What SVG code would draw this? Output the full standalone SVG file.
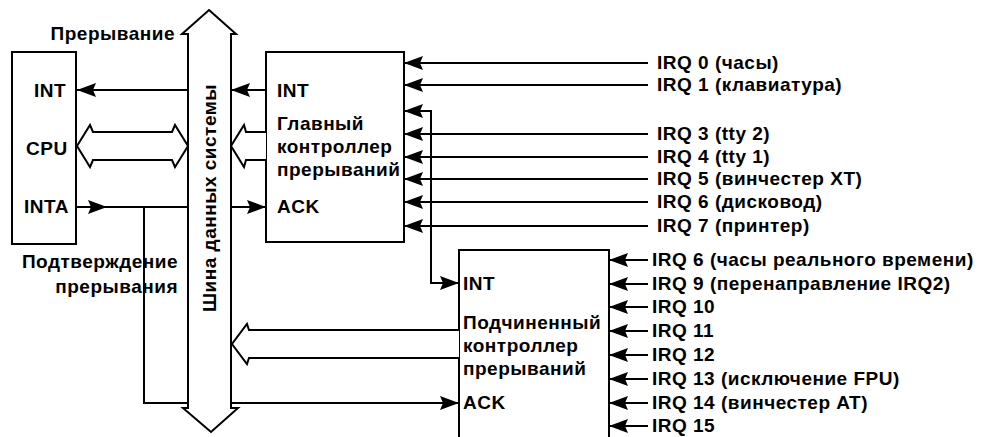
<svg xmlns="http://www.w3.org/2000/svg" width="981" height="437" viewBox="0 0 981 437">
<style>
text{font-family:"Liberation Sans",Arial,sans-serif;font-weight:bold;font-size:19px;letter-spacing:0.5px;fill:#000}
.box{fill:#fff;stroke:#000;stroke-width:2}
.ln{fill:none;stroke:#000;stroke-width:2}
.arr{fill:none;stroke:#000;stroke-width:2;marker-end:url(#ah)}
.hol{fill:#fff;stroke:#000;stroke-width:2;stroke-linejoin:miter}
</style>
<defs>
<marker id="ah" viewBox="0 0 19 14" refX="19" refY="7" markerWidth="19" markerHeight="14" markerUnits="userSpaceOnUse" orient="auto-start-reverse">
<path d="M0,0 L19,7 L0,14 L3,7 Z" fill="#000"/>
</marker>
</defs>

<g id="cpu">
<rect class="box" x="12" y="52" width="64" height="192"/>
<text x="34" y="97">INT</text>
<text x="26" y="155">CPU</text>
<text x="24" y="213">INTA</text>
</g>

<g id="bus">
<polygon class="hol" points="209,10 236,34 231,34 231,408 238,408 211,432 183,408 188,408 188,34 182,34"/>
<text transform="translate(216,198) rotate(-90)" text-anchor="middle">Шина данных системы</text>
</g>

<g id="labels">
<text x="175" y="40" text-anchor="end">Прерывание</text>
<text x="178" y="268" text-anchor="end">Подтверждение</text>
<text x="178" y="293" text-anchor="end">прерывания</text>
</g>

<g id="master">
<rect class="box" x="266" y="52" width="138" height="190"/>
<text x="277" y="97">INT</text>
<text x="277" y="130">Главный</text>
<text x="277" y="153">контроллер</text>
<text x="277" y="176">прерываний</text>
<text x="277" y="213">ACK</text>
</g>

<g id="slave">
<path class="box" d="M459,437 V250 H609 V437"/>
<text x="463" y="290">INT</text>
<text x="463" y="329">Подчиненный</text>
<text x="463" y="352">контроллер</text>
<text x="463" y="375">прерываний</text>
<text x="463" y="409">ACK</text>
</g>

<g id="irq-master-labels">
<text x="657" y="69">IRQ 0 (часы)</text>
<text x="657" y="91">IRQ 1 (клавиатура)</text>
<text x="657" y="140">IRQ 3 (tty 2)</text>
<text x="657" y="163">IRQ 4 (tty 1)</text>
<text x="657" y="185">IRQ 5 (винчестер XT)</text>
<text x="657" y="208">IRQ 6 (дисковод)</text>
<text x="657" y="232">IRQ 7 (принтер)</text>
</g>

<g id="irq-slave-labels">
<text x="652" y="266">IRQ 6 (часы реального времени)</text>
<text x="652" y="290">IRQ 9 (перенаправление IRQ2)</text>
<text x="652" y="313">IRQ 10</text>
<text x="652" y="337">IRQ 11</text>
<text x="652" y="361">IRQ 12</text>
<text x="652" y="385">IRQ 13 (исключение FPU)</text>
<text x="652" y="409">IRQ 14 (винчестер AT)</text>
<text x="652" y="432">IRQ 15</text>
</g>

<g id="connectors">
<path class="arr" d="M648,63 H404"/>
<path class="arr" d="M648,85 H404"/>
<path class="arr" d="M648,134 H404"/>
<path class="arr" d="M648,157 H404"/>
<path class="arr" d="M648,179 H404"/>
<path class="arr" d="M648,202 H404"/>
<path class="arr" d="M648,226 H404"/>

<path class="arr" d="M648,260 H609"/>
<path class="arr" d="M648,284 H609"/>
<path class="arr" d="M648,307 H609"/>
<path class="arr" d="M648,331 H609"/>
<path class="arr" d="M648,355 H609"/>
<path class="arr" d="M648,379 H609"/>
<path class="arr" d="M648,403 H609"/>
<path class="arr" d="M648,426 H609"/>

<path class="arr" style="marker-start:url(#ah)" d="M404,111 H431 V283 H459"/>

<path class="arr" d="M266,90 H231"/>
<path class="arr" d="M188,90 H77"/>

<path class="arr" d="M77,207 H107"/>
<path class="ln" d="M107,207 H188"/>
<path class="ln" d="M188,403 H144 V207"/>
<path class="arr" d="M231,207 H266"/>
<path class="arr" d="M231,403 H459"/>

<path class="hol" d="M77,146 L90,125 L93,132 L172,132 L175,125 L188,146 L175,167 L172,160 L93,160 L90,167 Z"/>
<path class="hol" d="M266,132 L246,132 L244,125 L231,146 L244,167 L246,160 L266,160"/>
<path class="hol" d="M459,330 L249,330 L247,324 L232,344 L247,364 L249,358 L459,358"/>
</g>
</svg>
